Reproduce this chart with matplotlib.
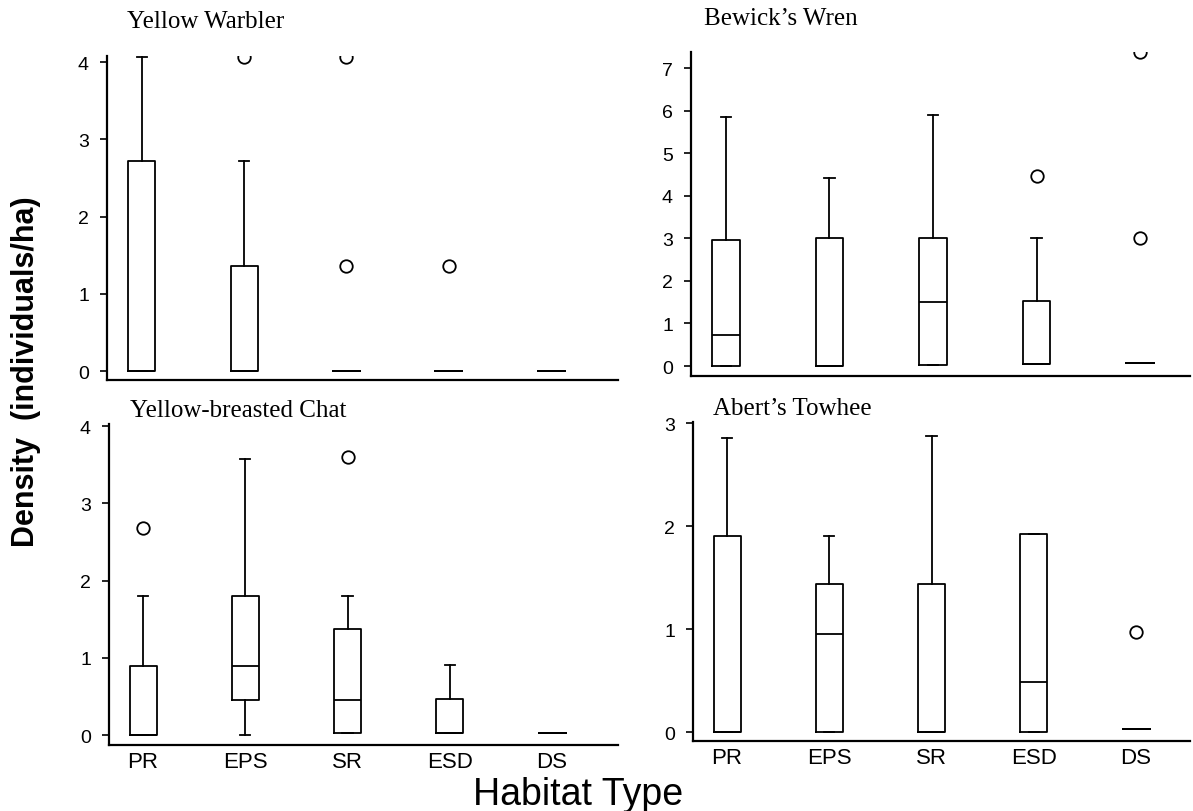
import matplotlib
matplotlib.use("Agg")
import matplotlib.pyplot as plt

habitats = ["PR", "EPS", "SR", "ESD", "DS"]

# box values per habitat (PR, EPS, SR, ESD, DS)
warbler_q1 = [0, 0, 0, 0, 0]
warbler_med = [0, 0, 0, 0, 0]
warbler_q3 = [2.72, 1.36, 0, 0, 0]
warbler_lo = [0, 0, 0, 0, 0]
warbler_hi = [4.07, 2.72, 0, 0, 0]
warbler_out = [[], [4.07], [4.07, 1.36], [1.36], []]

wren_q1 = [0, 0, 0.03, 0.05, 0.07]
wren_med = [0.72, 0, 1.5, 0.05, 0.07]
wren_q3 = [2.95, 3.0, 3.0, 1.52, 0.07]
wren_lo = [0, 0, 0.03, 0.05, 0.07]
wren_hi = [5.85, 4.42, 5.9, 3.0, 0.07]
wren_out = [[], [], [], [4.47], [7.37, 3.0]]

chat_q1 = [0, 0.45, 0.02, 0.02, 0.02]
chat_med = [0, 0.9, 0.46, 0.02, 0.02]
chat_q3 = [0.9, 1.8, 1.37, 0.47, 0.02]
chat_lo = [0, 0, 0.02, 0.02, 0.02]
chat_hi = [1.8, 3.58, 1.8, 0.91, 0.02]
chat_out = [[2.68], [], [3.6], [], []]

towhee_q1 = [0, 0, 0, 0, 0.03]
towhee_med = [0, 0.95, 0, 0.49, 0.03]
towhee_q3 = [1.9, 1.44, 1.44, 1.92, 0.03]
towhee_lo = [0, 0, 0, 0, 0.03]
towhee_hi = [2.85, 1.9, 2.87, 1.92, 0.03]
towhee_out = [[], [], [], [], [0.97]]


def make_stats(q1, med, q3, lo, hi, out):
    stats = []
    for i in range(len(q1)):
        stats.append({"q1": q1[i], "med": med[i], "q3": q3[i],
                      "whislo": lo[i], "whishi": hi[i], "fliers": out[i]})
    return stats


W, H = 1193, 812


def px_rect(left, right, top, bottom):
    return [left / W, (H - bottom) / H, (right - left) / W, (bottom - top) / H]


# title, stats, axes box in pixels, xlim, ylim, yticks, x labels?, title pos
panels = [
    ("Yellow Warbler",
     make_stats(warbler_q1, warbler_med, warbler_q3, warbler_lo, warbler_hi, warbler_out),
     px_rect(107, 618, 57, 381), (0.658, 5.655), (-0.116, 4.08), [0, 1, 2, 3, 4], False, (127, 22)),
    ("Bewick\u2019s Wren",
     make_stats(wren_q1, wren_med, wren_q3, wren_lo, wren_hi, wren_out),
     px_rect(691, 1190, 53, 377), (0.662, 5.483), (-0.235, 7.38), [0, 1, 2, 3, 4, 5, 6, 7], False, (704, 19)),
    ("Yellow-breasted Chat",
     make_stats(chat_q1, chat_med, chat_q3, chat_lo, chat_hi, chat_out),
     px_rect(109, 618, 425, 746), (0.667, 5.645), (-0.129, 4.03), [0, 1, 2, 3, 4], True, (130, 411)),
    ("Abert\u2019s Towhee",
     make_stats(towhee_q1, towhee_med, towhee_q3, towhee_lo, towhee_hi, towhee_out),
     px_rect(693, 1190, 423, 742), (0.667, 5.528), (-0.087, 3.01), [0, 1, 2, 3], True, (713, 409)),
]

fig = plt.figure(figsize=(W / 100, H / 100), dpi=100)

line = {"color": "black", "linewidth": 1.3}

for title, stats, rect, xlim, ylim, yticks, show_x, title_pos in panels:
    ax = fig.add_axes(rect)
    ax.bxp(stats, positions=[1, 2, 3, 4, 5], widths=0.264, capwidths=0.1,
           boxprops=line, whiskerprops=line, capprops=line,
           medianprops=line,
           flierprops={"marker": "o", "markerfacecolor": "none",
                       "markeredgecolor": "black", "markersize": 9,
                       "markeredgewidth": 1.3},
           manage_ticks=False)
    ax.set_xlim(*xlim)
    ax.set_ylim(*ylim)
    ax.spines["top"].set_visible(False)
    ax.spines["right"].set_visible(False)
    ax.spines["left"].set_linewidth(1.6)
    ax.spines["bottom"].set_linewidth(1.6)
    ax.set_yticks(yticks)
    ax.set_yticklabels([str(t) for t in yticks], fontsize=14,
                       fontfamily="Liberation Sans")
    ax.tick_params(axis="y", direction="out", length=5, width=1.2, pad=8)
    ax.set_xticks([1, 2, 3, 4, 5])
    if show_x:
        ax.set_xticklabels(habitats, fontsize=16, fontfamily="Liberation Sans")
        ax.tick_params(axis="x", length=0, pad=4)
    else:
        ax.set_xticklabels([])
        ax.tick_params(axis="x", length=0)
    fig.text(title_pos[0] / W, 1 - title_pos[1] / H, title,
             fontsize=18, fontfamily="Liberation Serif", va="center", ha="left")

fig.text(0.022, 1 - 372 / H, "Density  (individuals/ha)", rotation=90,
         fontsize=22, fontweight="bold", fontfamily="Liberation Sans",
         ha="center", va="center")
fig.text(578 / W, 1 - 805 / H, "Habitat Type", fontsize=27,
         fontfamily="Liberation Sans", ha="center", va="baseline")

fig.savefig("out.png", dpi=100)
